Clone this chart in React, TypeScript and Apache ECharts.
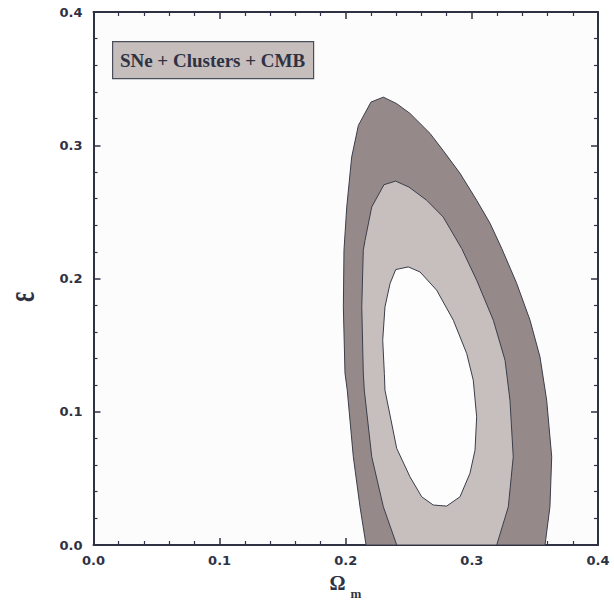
import React, { useEffect, useRef } from "react";
import * as echarts from "echarts";

// Confidence contours in the (Omega_m, epsilon) plane
const OUTER: [number, number][] = [
  [0.2161, 0], [0.2113, 0.0287], [0.206, 0.0662], [0.2012, 0.1162], [0.1994, 0.129],
  [0.1981, 0.1787], [0.1986, 0.2212], [0.2008, 0.2537], [0.2047, 0.2911], [0.21, 0.3149],
  [0.22, 0.3324], [0.2298, 0.3361], [0.2404, 0.3312], [0.2509, 0.3239], [0.2668, 0.3089],
  [0.2771, 0.2962], [0.2906, 0.2789], [0.3038, 0.2587], [0.3144, 0.2414], [0.3236, 0.2227],
  [0.3355, 0.1964], [0.3461, 0.1687], [0.354, 0.1412], [0.3593, 0.1087], [0.3633, 0.0662],
  [0.3619, 0.0287], [0.358, 0],
];

const MIDDLE: [number, number][] = [
  [0.2404, 0], [0.2298, 0.0287], [0.2206, 0.0662], [0.2147, 0.1162], [0.2139, 0.129],
  [0.2127, 0.1787], [0.2139, 0.2212], [0.2153, 0.2287], [0.2206, 0.2537], [0.2303, 0.2704],
  [0.2396, 0.2731], [0.2501, 0.2686], [0.2642, 0.2587], [0.2773, 0.2461], [0.2919, 0.2225],
  [0.3038, 0.1987], [0.317, 0.1687], [0.3263, 0.1387], [0.3302, 0.1087], [0.3328, 0.0662],
  [0.3289, 0.0287], [0.3197, 0],
];

const INNER: [number, number][] = [
  [0.2496, 0.2087], [0.2589, 0.2049], [0.2721, 0.1912], [0.2853, 0.1687], [0.2959, 0.1437],
  [0.3011, 0.1237], [0.3038, 0.0962], [0.3025, 0.0712], [0.2985, 0.0538], [0.2906, 0.0362],
  [0.28, 0.0292], [0.2694, 0.03], [0.2602, 0.0362], [0.2509, 0.0512], [0.2404, 0.0725],
  [0.2311, 0.1162], [0.2306, 0.1287], [0.2293, 0.1537], [0.2311, 0.1787], [0.2351, 0.1962],
  [0.2396, 0.2067],
];

const LEGEND_TEXT = "SNe + Clusters + CMB";
const AXIS_MIN = 0;
const AXIS_MAX = 0.4;
const AXIS_STEP = 0.1;

const INK = "#2f3243";

function contourSeries(name: string, pts: [number, number][], fill: string) {
  return {
    type: "custom",
    name,
    coordinateSystem: "cartesian2d",
    clip: true,
    silent: true,
    data: pts,
    encode: { x: 0, y: 1 },
    renderItem: (params: any, api: any) => {
      if (params.dataIndex !== 0) return null;
      return {
        type: "polygon",
        shape: { points: pts.map((p) => api.coord(p)) },
        style: { fill, stroke: "#3a3e4c", lineWidth: 1 },
      };
    },
  };
}

export default function App() {
  const ref = useRef<HTMLDivElement>(null);

  useEffect(() => {
    if (!ref.current) return;
    const chart = echarts.init(ref.current, undefined, { renderer: "svg" });

    const axisCommon = {
      type: "value",
      min: AXIS_MIN,
      max: AXIS_MAX,
      interval: AXIS_STEP,
      splitLine: { show: false },
      axisLine: { show: true, onZero: false, lineStyle: { color: INK, width: 2 } },
      axisTick: { show: true, inside: true, length: 7, lineStyle: { color: INK, width: 1.5 } },
      minorTick: { show: true, splitNumber: 5, length: 4, lineStyle: { color: INK, width: 1.2 } },
    };
    const labelStyle = {
      color: INK,
      fontFamily: "DejaVu Sans",
      fontWeight: "bold",
      fontSize: 13,
      formatter: (v: number) => v.toFixed(1),
    };

    chart.setOption({
      animation: false,
      backgroundColor: "#ffffff",
      grid: {
        left: 93.5,
        right: 16,
        top: 12,
        bottom: 55,
        show: true,
        backgroundColor: "#fcfcfc",
        borderWidth: 0,
      },
      xAxis: [
        { ...axisCommon, position: "bottom", axisLabel: { ...labelStyle, margin: 9 } },
        { ...axisCommon, position: "top", axisLabel: { show: false } },
      ],
      yAxis: [
        { ...axisCommon, position: "left", axisLabel: { ...labelStyle, margin: 11 } },
        { ...axisCommon, position: "right", axisLabel: { show: false } },
      ],
      series: [
        contourSeries("95.4%", OUTER, "#958a89"),
        contourSeries("68.3%", MIDDLE, "#c7bfbd"),
        contourSeries("inner", INNER, "#fdfdfd"),
      ],
      graphic: [
        {
          type: "rect",
          left: 112,
          top: 41,
          shape: { width: 201, height: 37 },
          style: { fill: "#c6bebc", stroke: "#4a4d5a", lineWidth: 1.2 },
          z: 100,
        },
        {
          type: "text",
          x: 212.5,
          y: 60,
          z: 101,
          style: {
            text: LEGEND_TEXT,
            fill: INK,
            font: "bold 19px 'Liberation Serif', serif",
            align: "center",
            verticalAlign: "middle",
          },
        },
        {
          type: "text",
          x: 337.5,
          y: 583,
          z: 101,
          style: {
            text: "Ω",
            fill: INK,
            font: "bold 20px 'Liberation Serif', serif",
            lineHeight: 20,
            align: "center",
            verticalAlign: "middle",
          },
        },
        {
          type: "text",
          x: 356,
          y: 593,
          z: 101,
          style: {
            text: "m",
            fill: INK,
            font: "bold 13px 'Liberation Serif', serif",
            lineHeight: 12,
            align: "center",
            verticalAlign: "middle",
          },
        },
        {
          type: "text",
          x: 21,
          y: 297,
          rotation: Math.PI / 2,
          scaleX: 0.95,
          scaleY: 1.55,
          z: 101,
          style: {
            text: "ε",
            fill: INK,
            font: "bold 25px 'Liberation Serif', serif",
            align: "center",
            verticalAlign: "middle",
          },
        },
      ],
    });

    return () => chart.dispose();
  }, []);

  return (
    <div
      ref={ref}
      style={{ position: "fixed", left: 0, top: 0, width: 614, height: 600 }}
    />
  );
}
